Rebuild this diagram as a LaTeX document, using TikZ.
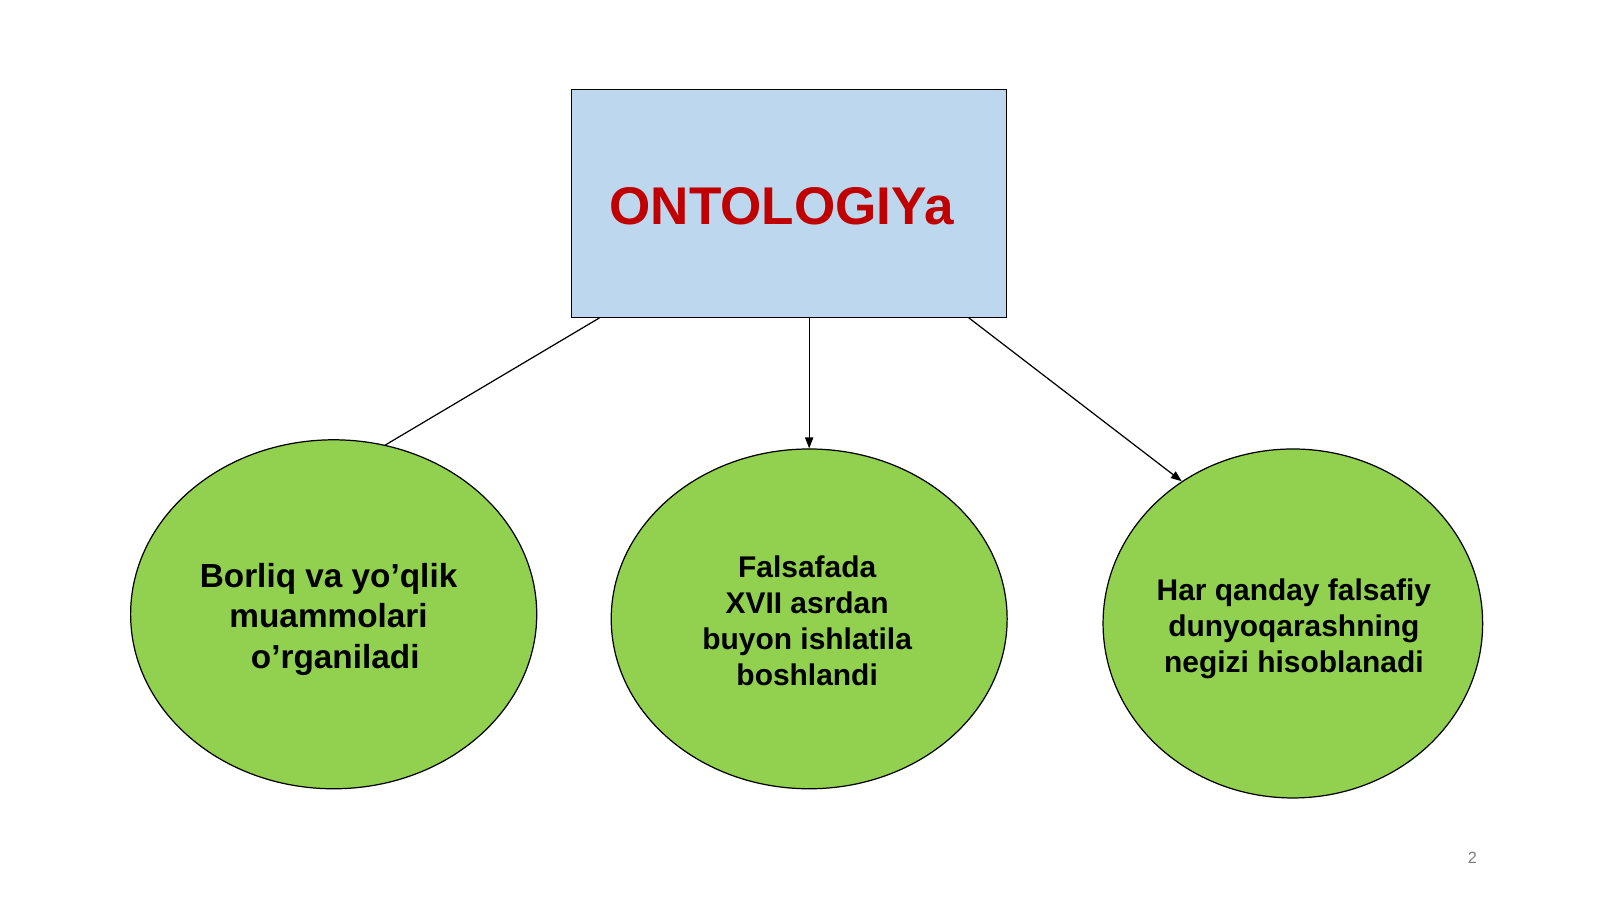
\documentclass[tikz,border=0pt]{standalone}
\usepackage{fontspec}
\setmainfont{Liberation Sans}
\usetikzlibrary{shapes.geometric,arrows.meta,calc}
\definecolor{boxblue}{HTML}{BDD7EE}
\definecolor{titlered}{HTML}{C00000}
\definecolor{leafgreen}{HTML}{92D050}
\begin{document}
\begin{tikzpicture}[x=0.75pt,y=-0.75pt,
  leaf/.style={ellipse,draw=black,line width=0.9pt,fill=leafgreen,inner sep=0pt},
  leaftext/.style={align=center,font=\bfseries\fontsize{22}{26.5}\selectfont,text=black},
  conn/.style={draw=black,line width=0.9pt},
  tip/.style={-{Triangle[length=8pt,width=6pt]}}]
\useasboundingbox (0,0) rectangle (1568,881);
\fill[white] (0,0) rectangle (1568,881);
\node[draw=black,line width=0.8pt,fill=boxblue,minimum width=426*0.75pt,minimum height=223*0.75pt,inner sep=0pt] (box) at (773,199.5) {};
\node[text=titlered,font=\bfseries\fontsize{39}{46}\selectfont] (title) at (766,202) {ONTOLOGIYa};
\node[leaf,minimum width=398*0.75pt,minimum height=342*0.75pt] (e1) at (327,602) {};
\node[leaf,minimum width=388*0.75pt,minimum height=333*0.75pt] (e2) at (793,606.5) {};
\node[leaf,minimum width=372*0.75pt,minimum height=342*0.75pt] (e3) at (1267,611) {};
\node[leaftext,font=\bfseries\fontsize{24.5}{29.5}\selectfont] (t1) at (322,607) {Borliq va yo’qlik\\muammolari\\\hspace*{0.4em}o’rganiladi};
\node[leaftext] (t2) at (791,608.5) {Falsafada\\XVII asrdan\\buyon ishlatila\\boshlandi};
\node[leaftext] (t3) at (1268,616) {Har qanday falsafiy\\dunyoqarashning\\negizi hisoblanadi};
\node[text=gray,font=\fontsize{12}{14}\selectfont] (pg) at (1443,841) {2};
\draw[conn] ($(box.south west)+(28,0)$) -- (e1.73);
\draw[conn,tip] ($(box.south)+(20,0)$) -- (e2.north);
\draw[conn,tip] ($(box.south west)+(390,0)$) -- (e3.128);
\end{tikzpicture}
\end{document}
